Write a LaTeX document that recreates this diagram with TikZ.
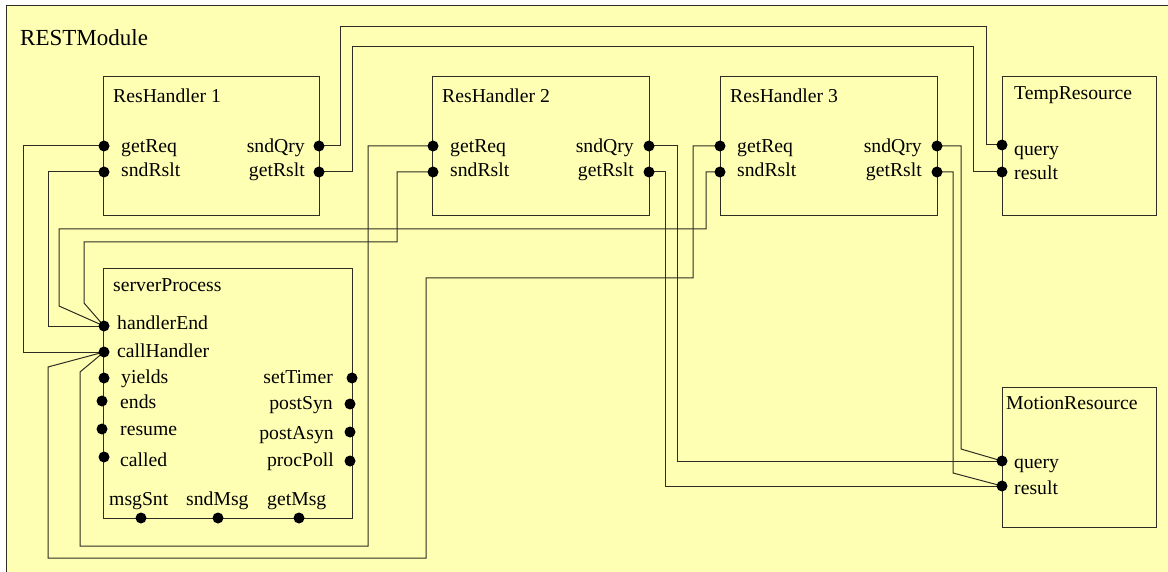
\documentclass[tikz,border=0pt]{standalone}
\usepackage{fontspec}
\setmainfont{Liberation Serif}
\usetikzlibrary{backgrounds}
\definecolor{bg}{RGB}{255,255,180}
\definecolor{ln}{RGB}{45,45,35}
\begin{document}
\begin{tikzpicture}[x=1pt,y=-1pt,
  box/.style={draw=ln, line width=1pt, rectangle, inner sep=0pt, outer sep=0pt, anchor=north west},
  portdot/.style={circle, fill=black, inner sep=0pt, minimum size=11pt},
  wire/.style={draw=ln, line width=1pt},
  lbl/.style={font=\fontsize{19.7}{22}\selectfont, inner sep=0pt},
  bigl/.style={font=\fontsize{23}{26}\selectfont, inner sep=0pt}]
\useasboundingbox (0,0) rectangle (1168,572);
% boxes
\node[box, minimum width=216pt, minimum height=139pt] (rh1) at (103,77) {};
\node[box, minimum width=217pt, minimum height=139pt] (rh2) at (432,77) {};
\node[box, minimum width=217pt, minimum height=139pt] (rh3) at (720,77) {};
\node[box, minimum width=154pt, minimum height=139pt] (tr) at (1002,77) {};
\node[box, minimum width=249pt, minimum height=249pt] (sp) at (103,269) {};
\node[box, minimum width=154pt, minimum height=140pt] (mr) at (1002,387) {};
% titles
\node[bigl, anchor=base west] (tmod) at (20,46) {RESTModule};
\node[lbl, anchor=base west] (trh1) at (113,103) {ResHandler 1};
\node[lbl, anchor=base west] (trh2) at (442,103) {ResHandler 2};
\node[lbl, anchor=base west] (trh3) at (730,103) {ResHandler 3};
\node[lbl, anchor=base west] (ttr) at (1014,100) {TempResource};
\node[lbl, anchor=base west] (tsp) at (113,291) {serverProcess};
\node[lbl, anchor=base west] (tmr) at (1006,409) {MotionResource};
% ports of the handlers
\node[portdot] (rh1gr) at (104,146) {};
\node[portdot] (rh1sr) at (104,172) {};
\node[portdot] (rh1sq) at (319,146) {};
\node[portdot] (rh1gs) at (319,172) {};
\node[portdot] (rh2gr) at (433,146) {};
\node[portdot] (rh2sr) at (433,172) {};
\node[portdot] (rh2sq) at (649,146) {};
\node[portdot] (rh2gs) at (649,172) {};
\node[portdot] (rh3gr) at (720,146) {};
\node[portdot] (rh3sr) at (720,172) {};
\node[portdot] (rh3sq) at (937,146) {};
\node[portdot] (rh3gs) at (937,172) {};
\node[portdot] (trq) at (1002,145) {};
\node[portdot] (trr) at (1002,172) {};
\node[portdot] (mrq) at (1002,461) {};
\node[portdot] (mrr) at (1002,486) {};
% ports of serverProcess
\node[portdot] (sphe) at (104,326) {};
\node[portdot] (spch) at (104,352) {};
\node[portdot] (spyi) at (104,378) {};
\node[portdot] (spen) at (102,401) {};
\node[portdot] (spre) at (102,429) {};
\node[portdot] (spca) at (104,457) {};
\node[portdot] (spst) at (352,378) {};
\node[portdot] (spps) at (350,404) {};
\node[portdot] (sppa) at (350,432) {};
\node[portdot] (sppp) at (350,461) {};
\node[portdot] (spms) at (141,518) {};
\node[portdot] (spsm) at (218,518) {};
\node[portdot] (spgm) at (299,518) {};
% port labels
\foreach \x/\n in {121/1,450/2,737/3}{
  \node[lbl, anchor=base west] (lgr\n) at (\x,153) {getReq};
  \node[lbl, anchor=base west] (lsr\n) at (\x,177) {sndRslt};
}
\foreach \x/\n in {305/1,634/2,922/3}{
  \node[lbl, anchor=base east] (lsq\n) at (\x,153) {sndQry};
  \node[lbl, anchor=base east] (lgs\n) at (\x,177) {getRslt};
}
\node[lbl, anchor=base west] (ltrq) at (1014,156) {query};
\node[lbl, anchor=base west] (ltrr) at (1014,180) {result};
\node[lbl, anchor=base west] (lmrq) at (1014,468) {query};
\node[lbl, anchor=base west] (lmrr) at (1014,494) {result};
\node[lbl, anchor=base west] (lhe) at (117,330) {handlerEnd};
\node[lbl, anchor=base west] (lch) at (117,357) {callHandler};
\node[lbl, anchor=base west] (lyi) at (121,383) {yields};
\node[lbl, anchor=base west] (len) at (120,408) {ends};
\node[lbl, anchor=base west] (lre) at (120,435) {resume};
\node[lbl, anchor=base west] (lca) at (120,466) {called};
\node[lbl, anchor=base east] (lst) at (333,383) {setTimer};
\node[lbl, anchor=base east] (lps) at (333,409) {postSyn};
\node[lbl, anchor=base east] (lpa) at (334,439) {postAsyn};
\node[lbl, anchor=base east] (lpp) at (334,466) {procPoll};
\node[lbl, anchor=base west] (lms) at (109,505) {msgSnt};
\node[lbl, anchor=base west] (lsm) at (186,505) {sndMsg};
\node[lbl, anchor=base west] (lgm) at (267,505) {getMsg};
% background and connectors
\begin{pgfonlayer}{background}
\fill[white] (0,0) rectangle (1168,572);
\node[box, fill=bg, minimum width=1162pt, minimum height=566pt] (module) at (6,6) {};
\draw[wire] (rh1sq.center) -- (340,146) -- (340,27) -- (986,27) -- (986,145) -- (trq.center);
\draw[wire] (rh1gs.center) -- (352,172) -- (352,47) -- (973,47) -- (973,172) -- (trr.center);
\draw[wire] (rh1gr.center) -- (23,146) -- (23,352) -- (spch.center);
\draw[wire] (rh1sr.center) -- (48,172) -- (48,326) -- (sphe.center);
\draw[wire] (rh2gr.center) -- (368,146) -- (368,546) -- (80,546) -- (80,372) -- (spch.center);
\draw[wire] (rh2sr.center) -- (397,172) -- (397,242) -- (84,242) -- (84,303) -- (sphe.center);
\draw[wire] (rh3sr.center) -- (706,172) -- (706,229) -- (59,229) -- (59,306) -- (sphe.center);
\draw[wire] (rh3gr.center) -- (693,146) -- (693,278) -- (426,278) -- (426,558) -- (48,558) -- (48,367) -- (spch.center);
\draw[wire] (rh2sq.center) -- (677,146) -- (677,461) -- (mrq.center);
\draw[wire] (rh2gs.center) -- (665,172) -- (665,486) -- (mrr.center);
\draw[wire] (rh3sq.center) -- (961,146) -- (961,449) -- (mrq.center);
\draw[wire] (rh3gs.center) -- (953,172) -- (953,473) -- (mrr.center);
\end{pgfonlayer}
\end{tikzpicture}
\end{document}
